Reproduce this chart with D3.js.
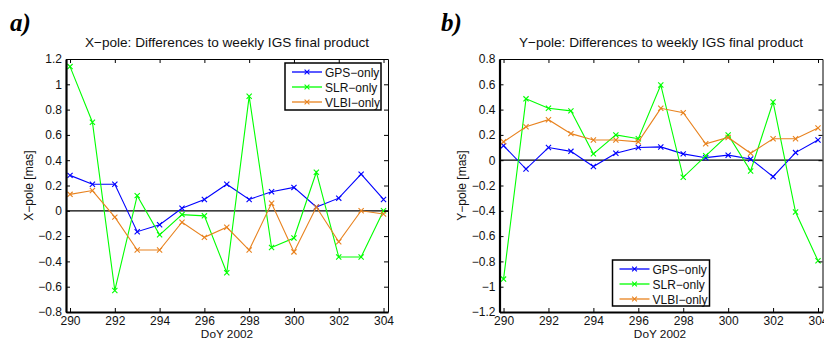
<!DOCTYPE html>
<html>
<head>
<meta charset="utf-8">
<script src="https://cdn.jsdelivr.net/npm/d3@7"></script>
<style>
  html, body { margin: 0; padding: 0; background: #fff; }
  svg { display: block; font-family: "Liberation Sans", Arial, Helvetica, sans-serif; }
</style>
</head>
<body>
<svg id="chart" width="824" height="342"></svg>
<script>
// Day of year 2002 (one value per day)
const days = [290, 291, 292, 293, 294, 295, 296, 297, 298, 299, 300, 301, 302, 303, 304];

// X-pole differences to weekly IGS final product [mas]
const xpoleGPS  = [0.28, 0.21, 0.21, -0.165, -0.11, 0.02, 0.09, 0.21, 0.09, 0.15, 0.185, 0.03, 0.10, 0.29, 0.09];
const xpoleSLR  = [1.14, 0.70, -0.63, 0.12, -0.19, -0.03, -0.04, -0.49, 0.905, -0.29, -0.215, 0.305, -0.365, -0.365, 0.0];
const xpoleVLBI = [0.13, 0.16, -0.05, -0.31, -0.31, -0.09, -0.21, -0.13, -0.31, 0.06, -0.325, 0.03, -0.245, 0.0, -0.025];

// Y-pole differences to weekly IGS final product [mas]
const ypoleGPS  = [0.115, -0.07, 0.10, 0.07, -0.05, 0.055, 0.10, 0.105, 0.05, 0.02, 0.04, 0.01, -0.13, 0.06, 0.16];
const ypoleSLR  = [-0.94, 0.485, 0.41, 0.39, 0.05, 0.20, 0.17, 0.595, -0.135, 0.035, 0.20, -0.085, 0.46, -0.41, -0.795];
const ypoleVLBI = [0.145, 0.265, 0.32, 0.21, 0.16, 0.16, 0.145, 0.41, 0.375, 0.13, 0.18, 0.055, 0.17, 0.17, 0.255];

const seriesNames  = ["GPS\u2212only", "SLR\u2212only", "VLBI\u2212only"];
const seriesColors = ["#0000ff", "#00ff00", "#e8821e"];

// Axis ticks
const xTicks = [290, 292, 294, 296, 298, 300, 302, 304];
const yTicksX = [-0.8, -0.6, -0.4, -0.2, 0, 0.2, 0.4, 0.6, 0.8, 1, 1.2];
const yTicksY = [-1.2, -1, -0.8, -0.6, -0.4, -0.2, 0, 0.2, 0.4, 0.6, 0.8];

const svg = d3.select("#chart");

function fmt(v) {
  const s = String(+v.toFixed(1));
  return v < 0 ? "\u2212" + s.slice(1) : s;
}

function panel(opt) {
  const g = svg.append("g");
  const x = d3.scaleLinear().domain([289.82, 304.2]).range([opt.left, opt.right]);
  const y = d3.scaleLinear().domain(opt.yDomain).range([opt.bottom, opt.top]);

  // panel letter
  g.append("text")
    .attr("x", opt.letterX).attr("y", 31)
    .attr("font-family", "'Liberation Serif', 'Times New Roman', serif")
    .attr("font-weight", "bold").attr("font-style", "italic")
    .attr("font-size", 25).attr("fill", "#000")
    .text(opt.letter);

  // title
  g.append("text")
    .attr("x", opt.titleX).attr("y", 47)
    .attr("text-anchor", "middle").attr("font-size", 13.6).attr("fill", "#111")
    .text(opt.title);

  // zero line
  g.append("line")
    .attr("x1", opt.left).attr("x2", opt.right)
    .attr("y1", y(0)).attr("y2", y(0))
    .attr("stroke", "#000").attr("stroke-width", 1.2);

  // series
  const line = d3.line().x((d, i) => x(days[i])).y(d => y(d));
  opt.series.forEach((vals, k) => {
    const sg = g.append("g");
    sg.append("path").datum(vals)
      .attr("d", line).attr("fill", "none")
      .attr("stroke", seriesColors[k]).attr("stroke-width", 1.1);
    const m = 2.6;
    sg.selectAll("path.mk").data(vals).join("path")
      .attr("class", "mk")
      .attr("d", (d, i) => {
        const cx = x(days[i]), cy = y(d);
        return `M${cx - m},${cy - m}L${cx + m},${cy + m}M${cx - m},${cy + m}L${cx + m},${cy - m}`;
      })
      .attr("stroke", seriesColors[k]).attr("stroke-width", 1.1).attr("fill", "none");
  });

  // axes
  const styleAxis = (a, w) => {
    a.select(".domain").attr("stroke", "#000").attr("stroke-width", w);
    a.selectAll(".tick line").attr("stroke", "#000").attr("stroke-width", 1);
    a.selectAll(".tick text").attr("fill", "#111").attr("font-size", 12)
      .attr("font-family", "'Liberation Sans', Arial, sans-serif");
  };
  const ax = g.append("g").attr("transform", `translate(0,${opt.bottom})`)
    .call(d3.axisBottom(x).tickValues(xTicks).tickSizeInner(-4).tickSizeOuter(0).tickPadding(4).tickFormat(d3.format("d")));
  styleAxis(ax, 2.2);
  const axt = g.append("g").attr("transform", `translate(0,${opt.top})`)
    .call(d3.axisTop(x).tickValues(xTicks).tickSizeInner(-4).tickSizeOuter(0).tickFormat(""));
  styleAxis(axt, 1);
  const ay = g.append("g").attr("transform", `translate(${opt.left},0)`)
    .call(d3.axisLeft(y).tickValues(opt.yTicks).tickSizeInner(-4).tickSizeOuter(0).tickPadding(4).tickFormat(fmt));
  styleAxis(ay, 2.2);
  const ayr = g.append("g").attr("transform", `translate(${opt.right},0)`)
    .call(d3.axisRight(y).tickValues(opt.yTicks).tickSizeInner(-4).tickSizeOuter(0).tickFormat(""));
  styleAxis(ayr, 1);

  // axis labels
  g.append("text")
    .attr("x", opt.xlabelX).attr("y", 338)
    .attr("text-anchor", "middle").attr("font-size", 11.8).attr("fill", "#111")
    .text("DoY 2002");
  g.append("text")
    .attr("transform", `translate(${opt.ylabelX},${(opt.top + opt.bottom) / 2}) rotate(-90)`)
    .attr("text-anchor", "middle").attr("font-size", 12).attr("fill", "#111")
    .text(opt.ylabel);

  // legend
  const L = opt.legend;
  const lg = g.append("g");
  lg.append("rect")
    .attr("x", L.x).attr("y", L.y).attr("width", L.w).attr("height", L.h)
    .attr("fill", "#fff").attr("stroke", "#000").attr("stroke-width", 1.5);
  seriesNames.forEach((name, k) => {
    const ly = L.y + 9 + k * 15;
    lg.append("line")
      .attr("x1", L.x + 7).attr("x2", L.x + 37).attr("y1", ly).attr("y2", ly)
      .attr("stroke", seriesColors[k]).attr("stroke-width", 1.3);
    const cx = L.x + 22, m = 2.4;
    lg.append("path")
      .attr("d", `M${cx - m},${ly - m}L${cx + m},${ly + m}M${cx - m},${ly + m}L${cx + m},${ly - m}`)
      .attr("stroke", seriesColors[k]).attr("stroke-width", 1.1);
    lg.append("text")
      .attr("x", L.x + 40).attr("y", ly + 4.5)
      .attr("font-size", 12).attr("fill", "#111")
      .text(name);
  });
}

panel({
  letter: "a)", letterX: 10,
  title: "X\u2212pole: Differences to weekly IGS final product", titleX: 227,
  ylabel: "X\u2212pole [mas]", ylabelX: 33, xlabelX: 227,
  left: 66, right: 388, top: 59, bottom: 312,
  yDomain: [-0.8, 1.2], yTicks: yTicksX,
  series: [xpoleGPS, xpoleSLR, xpoleVLBI],
  legend: { x: 285, y: 63, w: 96, h: 47 }
});

panel({
  letter: "b)", letterX: 441,
  title: "Y\u2212pole: Differences to weekly IGS final product", titleX: 661,
  ylabel: "Y\u2212pole [mas]", ylabelX: 466, xlabelX: 660,
  left: 499.5, right: 822.5, top: 59, bottom: 312,
  yDomain: [-1.2, 0.8], yTicks: yTicksY,
  series: [ypoleGPS, ypoleSLR, ypoleVLBI],
  legend: { x: 612.5, y: 260, w: 97, h: 46 }
});
</script>
</body>
</html>
